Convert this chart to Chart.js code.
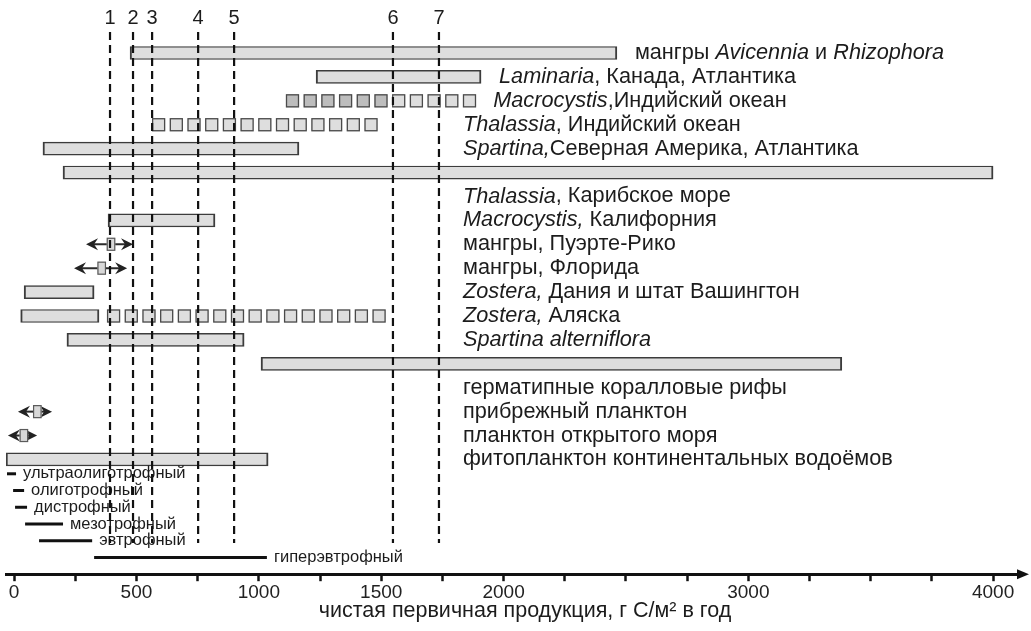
<!DOCTYPE html>
<html lang="ru">
<head>
<meta charset="UTF-8">
<title>Чистая первичная продукция</title>
<script src="https://cdn.jsdelivr.net/npm/chart.js"></script>
<style>
  html, body { margin: 0; padding: 0; background: #fff; }
  #wrap { width: 1031px; height: 631px; }
</style>
</head>
<body>
<div id="wrap"><canvas id="prodChart"></canvas></div>
<script>
// Communities from top to bottom; *...* marks the Latin names set in italics
const communities = [
  'мангры *Avicennia* и *Rhizophora*',
  '*Laminaria*, Канада, Атлантика',
  '*Macrocystis*,Индийский океан',
  '*Thalassia*, Индийский океан',
  '*Spartina,*Северная Америка, Атлантика',
  '*Thalassia*, Карибское море',
  '*Macrocystis,* Калифорния',
  'мангры, Пуэрте-Рико',
  'мангры, Флорида',
  '*Zostera,* Дания и штат Вашингтон',
  '*Zostera,* Аляска',
  '*Spartina alterniflora*',
  'герматипные коралловые рифы',
  'прибрежный планктон',
  'планктон открытого моря',
  'фитопланктон континентальных водоёмов'
];
// these labels go on the line under their bar
const labelBelow = [false, false, false, false, false, true, false, false, false, false, false, false, true, false, false, false];

// measured ranges, g C/m2 per year
const rangeLow  = [474, 1234, null, null, 118, 200, 384, null, null, 41, 27, 216, 1009, null, null, -33];
const rangeHigh = [2463, 1908, null, null, 1164, 4000, 821, null, null, 327, 347, 940, 3382, null, null, 1038];
// uncertain ranges, drawn as a row of squares
const roughLow  = [null, null, 1111, 564, null, null, null, null, null, null, 380, null, null, null, null, null];
const roughHigh = [null, null, 1884, 1503, null, null, null, null, null, null, 1516, null, null, null, null, null];
// single estimates with their spread
const estValue = [null, null, null, null, null, null, null, 395, 357, null, null, null, null, 94, 39, null];
const estLow   = [null, null, null, null, null, null, null, 294, 245, null, null, null, null, 16, -25, null];
const estHigh  = [null, null, null, null, null, null, null, 486, 462, null, null, null, null, 155, 94, null];

// lake types by trophic state
const lakeTypes = ['ультраолиготрофный', 'олиготрофный', 'дистрофный', 'мезотрофный', 'эвтрофный', 'гиперэвтрофный'];
const lakeLow   = [-29, -4, 4, 45, 102, 327];
const lakeHigh  = [8, 41, 53, 200, 319, 1033];

// numbered reference levels
const refNames  = ['1', '2', '3', '4', '5', '6', '7'];
const refValues = [392, 486, 564, 752, 899, 1548, 1736];

const tickLabels = [0, 500, 1000, 1500, 2000, 3000, 4000];
const axisTitle = 'чистая первичная продукция, г C/м² в год';

const FONT = '"Liberation Sans", Arial, Helvetica, sans-serif';
const INK = '#1c1c1c';
const LABEL_SIZE = 21.7;

// lane number of each community (label-below rows take an extra lane)
const lanes = [];
let lane = 0;
communities.forEach((c, i) => {
  lanes.push(lane);
  lane += labelBelow[i] ? 2 : 1;
});
const lakeLane = j => 17.6 + j * 0.7;

const barData = [];
communities.forEach((c, i) => {
  if (rangeLow[i] !== null) barData.push({ x: [rangeLow[i], rangeHigh[i]], y: lanes[i] });
});

function partFont(k, size) {
  return (k % 2 ? 'italic ' : '') + size + 'px ' + FONT;
}

function textWidth(ctx, text, size) {
  let w = 0;
  text.split('*').forEach((p, k) => {
    ctx.font = partFont(k, size);
    w += ctx.measureText(p).width;
  });
  return w;
}

// draws a label with *italic* parts
function richText(ctx, text, px, py, size, align) {
  const w = textWidth(ctx, text, size);
  let cx = align === 'right' ? px - w : px;
  ctx.textBaseline = 'middle';
  ctx.textAlign = 'left';
  ctx.fillStyle = INK;
  text.split('*').forEach((p, k) => {
    ctx.font = partFont(k, size);
    ctx.fillText(p, cx, py);
    cx += ctx.measureText(p).width;
  });
}

function arrowHead(ctx, tipX, cy, dir) {
  ctx.beginPath();
  ctx.moveTo(tipX, cy);
  ctx.lineTo(tipX + dir * 12, cy - 6);
  ctx.lineTo(tipX + dir * 8, cy);
  ctx.lineTo(tipX + dir * 12, cy + 6);
  ctx.closePath();
  ctx.fill();
}

const sketch = {
  id: 'sketch',
  afterDatasetsDraw(chart) {
    const { ctx, chartArea, scales: { x, y } } = chart;
    ctx.save();

    // rows of squares
    const darkSquares = { 2: 6 };
    communities.forEach((c, i) => {
      if (roughLow[i] === null) return;
      const p0 = x.getPixelForValue(roughLow[i]);
      const p1 = x.getPixelForValue(roughHigh[i]);
      const cy = y.getPixelForValue(lanes[i]);
      const s = 13, pitch = 17.7;
      let n = 0;
      for (let sx = p0; sx + s <= p1 + 1.5; sx += pitch, n++) {
        ctx.fillStyle = n < (darkSquares[i] || 0) ? '#bdbdbd' : '#dedede';
        ctx.fillRect(sx, cy - 6.5, s, 13);
        ctx.strokeStyle = '#4a4a4a';
        ctx.lineWidth = 1.3;
        ctx.strokeRect(sx + 0.5, cy - 6, s - 1, 12);
      }
    });

    // estimates with spread arrows
    communities.forEach((c, i) => {
      if (estValue[i] === null) return;
      const cy = y.getPixelForValue(lanes[i]);
      const lo = x.getPixelForValue(estLow[i]);
      const hi = x.getPixelForValue(estHigh[i]);
      const m = x.getPixelForValue(estValue[i]);
      ctx.strokeStyle = '#2a2a2a';
      ctx.fillStyle = '#222';
      ctx.lineWidth = 2;
      ctx.beginPath();
      ctx.moveTo(lo + 7, cy);
      ctx.lineTo(hi - 7, cy);
      ctx.stroke();
      arrowHead(ctx, lo, cy, 1);
      arrowHead(ctx, hi, cy, -1);
      ctx.fillStyle = '#d8d8d8';
      ctx.fillRect(m - 4, cy - 6.5, 8.5, 13);
      ctx.strokeStyle = '#5a5a5a';
      ctx.lineWidth = 1.2;
      ctx.strokeRect(m - 3.5, cy - 6, 7.5, 12);
    });

    // community labels
    const column = 463;
    communities.forEach((c, i) => {
      const ends = [rangeHigh[i], roughHigh[i], estHigh[i]].filter(v => v !== null);
      const endPx = x.getPixelForValue(Math.max(...ends));
      if (labelBelow[i]) {
        const cy = y.getPixelForValue(lanes[i] + 1);
        const w = textWidth(ctx, c, LABEL_SIZE);
        if (column + w > chart.width - 30) richText(ctx, c, endPx + 4, cy, LABEL_SIZE, 'right');
        else richText(ctx, c, column, cy, LABEL_SIZE, 'left');
      } else {
        richText(ctx, c, Math.max(column, endPx + 18), y.getPixelForValue(lanes[i]), LABEL_SIZE, 'left');
      }
    });

    // lake types
    lakeTypes.forEach((t, j) => {
      const cy = y.getPixelForValue(lakeLane(j));
      const a = x.getPixelForValue(lakeLow[j]);
      const b = x.getPixelForValue(lakeHigh[j]);
      ctx.strokeStyle = '#111';
      ctx.lineWidth = 3;
      ctx.beginPath();
      ctx.moveTo(a, cy);
      ctx.lineTo(b, cy);
      ctx.stroke();
      richText(ctx, t, b + 7, cy, 16.5, 'left');
    });

    // numbered reference levels
    const top = y.getPixelForValue(-0.88);
    const bottom = y.getPixelForValue(20.5);
    refValues.forEach((v, k) => {
      const px = x.getPixelForValue(v);
      ctx.strokeStyle = '#111';
      ctx.lineWidth = 2.2;
      ctx.setLineDash([8, 5]);
      ctx.beginPath();
      ctx.moveTo(px, top);
      ctx.lineTo(px, bottom);
      ctx.stroke();
      ctx.setLineDash([]);
      ctx.fillStyle = INK;
      ctx.font = '20px ' + FONT;
      ctx.textAlign = 'center';
      ctx.textBaseline = 'middle';
      ctx.fillText(refNames[k], px, y.getPixelForValue(-1.46));
    });

    // arrow at the end of the axis and its title
    const ay = chartArea.bottom;
    ctx.fillStyle = '#111';
    ctx.beginPath();
    ctx.moveTo(chartArea.right - 3, ay - 5);
    ctx.lineTo(chartArea.right + 9, ay);
    ctx.lineTo(chartArea.right - 3, ay + 5);
    ctx.closePath();
    ctx.fill();

    ctx.font = '21.5px ' + FONT;
    ctx.fillStyle = INK;
    ctx.textAlign = 'center';
    ctx.textBaseline = 'middle';
    ctx.fillText(axisTitle, 525, ay + 37);
    ctx.restore();
  }
};

new Chart(document.getElementById('prodChart'), {
  type: 'bar',
  data: {
    datasets: [{
      data: barData,
      backgroundColor: '#dedede',
      borderColor: '#3c3c3c',
      borderWidth: { top: 1.4, bottom: 1.4, left: 2, right: 2 },
      borderSkipped: false,
      barThickness: 13
    }]
  },
  options: {
    indexAxis: 'y',
    responsive: true,
    maintainAspectRatio: false,
    animation: false,
    layout: { padding: { top: 0, left: 6, right: 11, bottom: 27 } },
    plugins: { legend: { display: false }, tooltip: { enabled: false } },
    scales: {
      x: {
        type: 'linear',
        min: -33,
        max: 4110,
        border: { display: true, color: '#111', width: 3 },
        grid: { display: true, drawOnChartArea: false, drawTicks: true, tickLength: 7, tickWidth: 2.5, tickColor: '#111' },
        afterBuildTicks: s => {
          s.ticks = [];
          for (let v = 0; v <= 4000; v += 250) s.ticks.push({ value: v });
        },
        ticks: {
          autoSkip: false,
          maxRotation: 0,
          padding: 0,
          color: '#222',
          font: { size: 19, family: FONT },
          callback: v => tickLabels.includes(v) ? String(v) : ''
        }
      },
      y: {
        type: 'linear',
        reverse: true,
        offset: false,
        grid: { offset: false },
        min: -2.2176,
        max: 21.8,
        display: false
      }
    }
  },
  plugins: [sketch]
});
</script>
</body>
</html>
